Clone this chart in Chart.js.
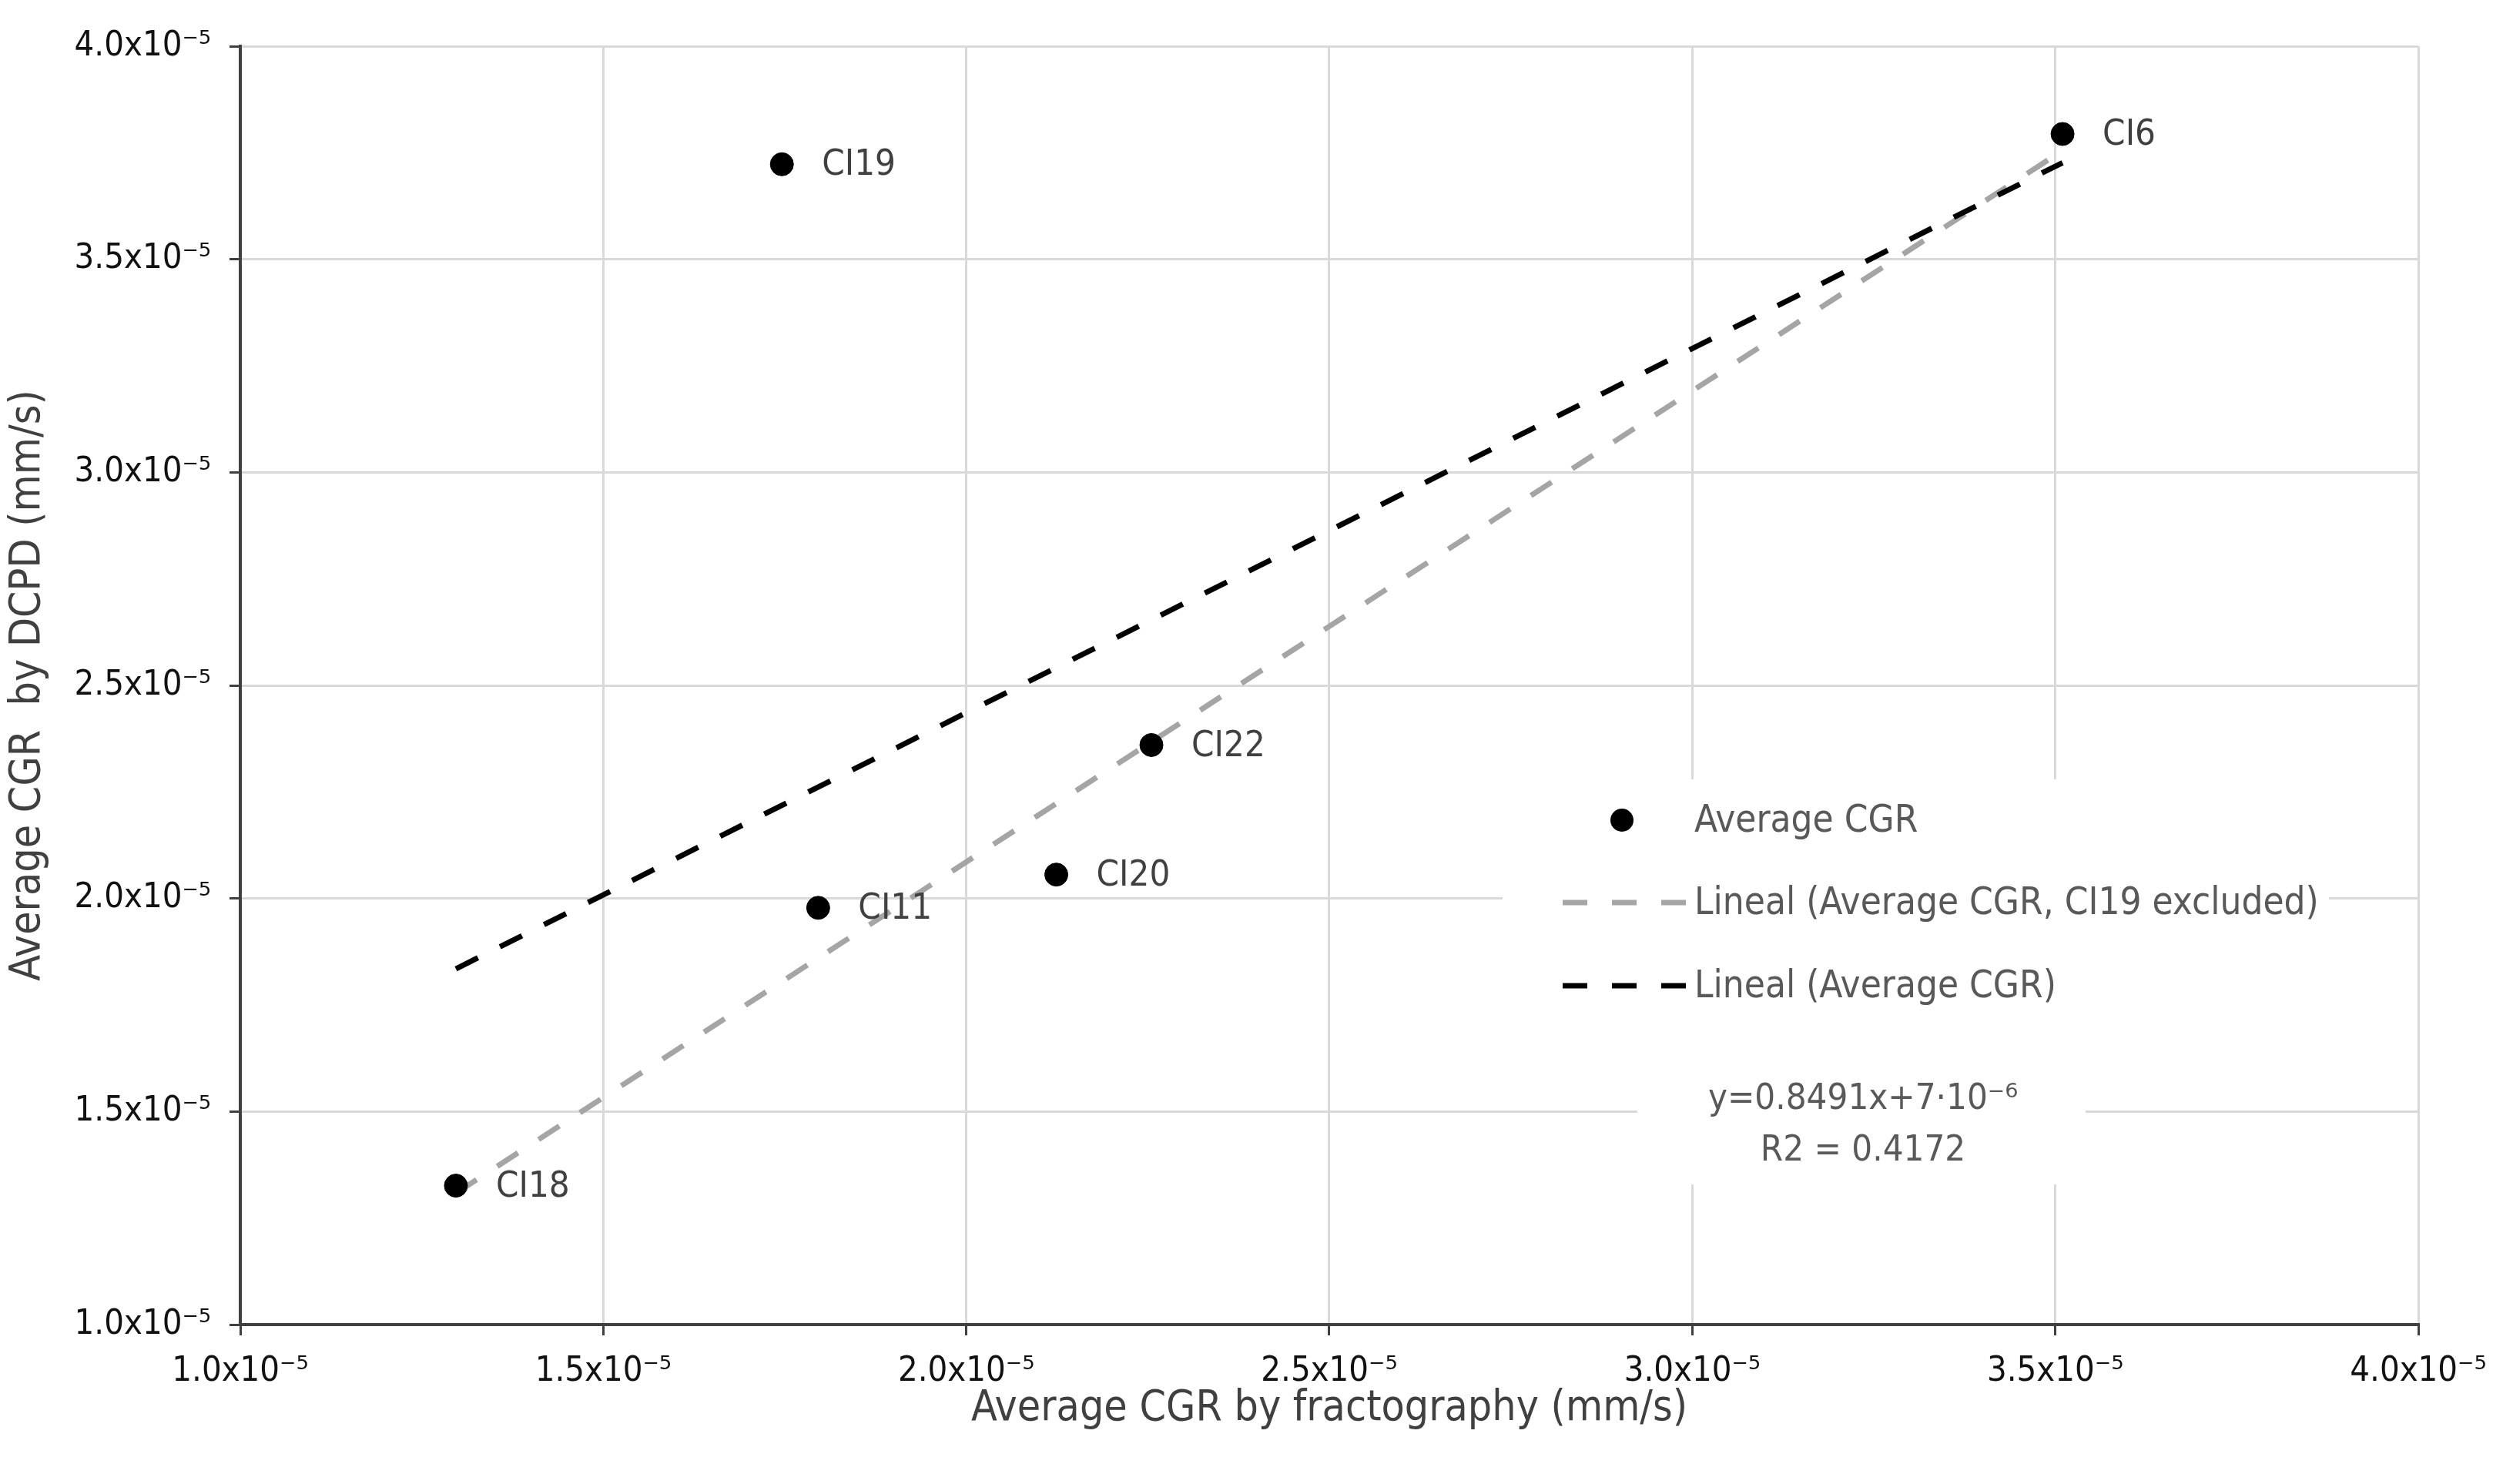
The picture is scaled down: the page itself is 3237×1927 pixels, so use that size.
<!DOCTYPE html>
<html>
<head>
<meta charset="utf-8">
<script src="https://cdn.jsdelivr.net/npm/chart.js@4.4.1/dist/chart.umd.min.js"></script>
<style>
  html, body { margin: 0; padding: 0; background: #fff; }
  #wrap { width: 3237px; height: 1927px; }
</style>
</head>
<body>
<div id="wrap"><canvas id="chart"></canvas></div>
<script>
// specimens and their average crack growth rates (mm/s)
const specimens = ['CI18', 'CI19', 'CI11', 'CI20', 'CI22', 'CI6'];
const cgrFracto = [1.297e-5, 1.746e-5, 1.796e-5, 2.124e-5, 2.255e-5, 3.510e-5];
const cgrDcpd   = [1.326e-5, 3.723e-5, 1.978e-5, 2.056e-5, 2.360e-5, 3.794e-5];
const excluded  = ['CI19'];

const axisValues = [1.0e-5, 1.5e-5, 2.0e-5, 2.5e-5, 3.0e-5, 3.5e-5, 4.0e-5];
const axisLabels = ['1.0x10⁻⁵', '1.5x10⁻⁵', '2.0x10⁻⁵', '2.5x10⁻⁵', '3.0x10⁻⁵', '3.5x10⁻⁵', '4.0x10⁻⁵'];
const eqLines    = ['y=0.8491x+7·10⁻⁶', 'R2 = 0.4172'];

const FONT = '"Liberation Sans Narrow", "DejaVu Sans Condensed", sans-serif';

function linFit(xs, ys) {
  const n = xs.length;
  const mx = xs.reduce((a, b) => a + b, 0) / n;
  const my = ys.reduce((a, b) => a + b, 0) / n;
  let sxy = 0, sxx = 0;
  xs.forEach((x, i) => { sxy += (x - mx) * (ys[i] - my); sxx += (x - mx) * (x - mx); });
  const m = sxy / sxx;
  const b = my - m * mx;
  const x0 = Math.min(...xs), x1 = Math.max(...xs);
  return [{ x: x0, y: m * x0 + b }, { x: x1, y: m * x1 + b }];
}

const points = cgrFracto.map((x, i) => ({ x, y: cgrDcpd[i] }));
const keep = specimens.map(s => !excluded.includes(s));
const fitAll = linFit(cgrFracto, cgrDcpd);
const fitExcl = linFit(cgrFracto.filter((_, i) => keep[i]), cgrDcpd.filter((_, i) => keep[i]));

const extras = {
  id: 'extras',
  afterDatasetsDraw(chart) {
    const ctx = chart.ctx;

    // labels next to the points
    const meta = chart.getDatasetMeta(0);
    ctx.save();
    ctx.font = '47px ' + FONT;
    ctx.fillStyle = '#404040';
    ctx.textBaseline = 'middle';
    meta.data.forEach((pt, i) => ctx.fillText(specimens[i], pt.x + 52, pt.y + 2));

    // legend
    ctx.fillStyle = '#fff';
    ctx.fillRect(1951, 1012, 1073, 330);
    const rows = [1065, 1172, 1280];
    chart.data.datasets.forEach((ds, i) => {
      const y = rows[i];
      if (ds.type === 'scatter') {
        ctx.fillStyle = ds.backgroundColor;
        ctx.beginPath();
        ctx.arc(2106, y, ds.pointRadius, 0, Math.PI * 2);
        ctx.fill();
      } else {
        ctx.strokeStyle = ds.borderColor;
        ctx.lineWidth = ds.borderWidth;
        ctx.setLineDash(ds.borderDash);
        ctx.beginPath();
        ctx.moveTo(2029, y);
        ctx.lineTo(2192, y);
        ctx.stroke();
        ctx.setLineDash([]);
      }
      ctx.fillStyle = '#595959';
      ctx.font = '49px ' + FONT;
      ctx.textAlign = 'left';
      ctx.fillText(ds.label, 2200, y + 2);
    });

    // equation box
    ctx.fillStyle = '#fff';
    ctx.fillRect(2126, 1342, 582, 196);
    ctx.fillStyle = '#595959';
    ctx.font = '47px ' + FONT;
    ctx.textAlign = 'center';
    ctx.fillText(eqLines[0], 2419, 1428);
    ctx.fillText(eqLines[1], 2419, 1495);
    ctx.restore();
  }
};

const axisBase = {
  type: 'linear',
  min: 1.0e-5,
  max: 4.0e-5,
  afterBuildTicks: (s) => { s.ticks = axisValues.map(v => ({ value: v })); },
  grid: { color: '#d9d9d9', lineWidth: 3, tickColor: '#404040', tickWidth: 3, tickLength: 14 },
  border: { color: '#404040', width: 4 },
};

new Chart(document.getElementById('chart'), {
  data: {
    datasets: [
      {
        type: 'scatter',
        label: 'Average CGR',
        data: points,
        backgroundColor: '#000',
        borderColor: '#000',
        pointRadius: 15,
        order: 0,
      },
      {
        type: 'line',
        label: 'Lineal (Average CGR, CI19 excluded)',
        data: fitExcl,
        borderColor: '#a5a5a5',
        borderWidth: 7,
        borderDash: [32, 32],
        pointRadius: 0,
        fill: false,
        order: 2,
      },
      {
        type: 'line',
        label: 'Lineal (Average CGR)',
        data: fitAll,
        borderColor: '#000',
        borderWidth: 7,
        borderDash: [32, 32],
        pointRadius: 0,
        fill: false,
        order: 1,
      },
    ]
  },
  options: {
    responsive: true,
    maintainAspectRatio: false,
    animation: false,
    layout: { padding: { left: 0, right: 97, top: 60, bottom: 0 } },
    plugins: { legend: { display: false }, tooltip: { enabled: false } },
    scales: {
      x: {
        ...axisBase,
        ticks: { color: '#111', font: { size: 45, family: FONT }, padding: 20, maxRotation: 0,
                 callback: (v, i) => axisLabels[i] },
        title: { display: true, text: 'Average CGR by fractography (mm/s)', color: '#404040',
                 font: { size: 55, family: FONT }, padding: { top: 0, bottom: 64 } },
        afterFit: (s) => { s.height = 207; s.paddingLeft = 0; s.paddingRight = 0; },
      },
      y: {
        ...axisBase,
        ticks: { color: '#111', font: { size: 45, family: FONT }, padding: 24,
                 callback: (v, i) => axisLabels[i] },
        title: { display: true, text: 'Average CGR  by DCPD (mm/s)', color: '#404040',
                 font: { size: 55, family: FONT }, padding: { top: 4, bottom: 0 } },
        afterFit: (s) => { s.width = 312; s.paddingTop = 0; s.paddingBottom = 0; },
      }
    }
  },
  plugins: [extras]
});
</script>
</body>
</html>
